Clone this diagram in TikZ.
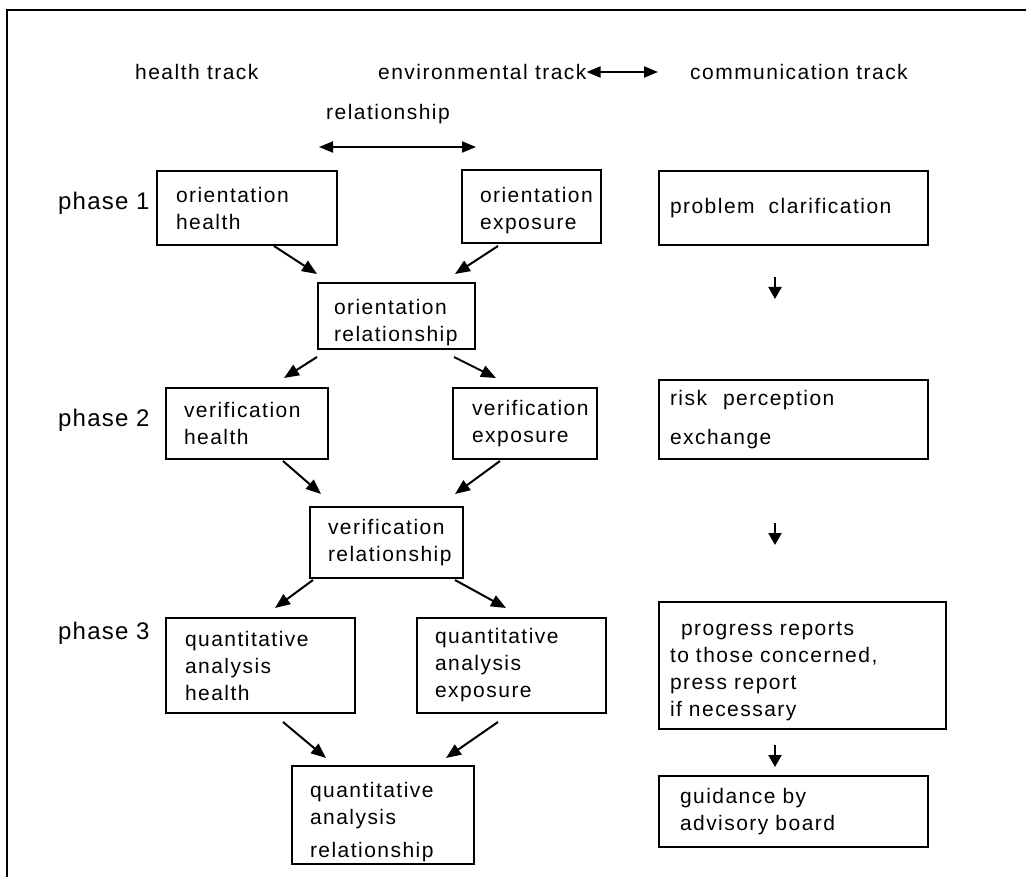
\documentclass[tikz,border=0pt]{standalone}
\usepackage{fontspec}
\setmainfont{Liberation Sans}[LetterSpace=7]
\usetikzlibrary{arrows.meta,calc}
\hyphenpenalty=10000
\newcommand\myind[1]{\hspace*{#1pt}}
\newcommand\mystrut[1]{\rule{0pt}{#1pt}}
\begin{document}
\begin{tikzpicture}[x=1pt,y=-1pt,
  txtfont/.style={font=\fontsize{21}{27}\selectfont},
  box/.style={draw,line width=2pt,anchor=north west,inner xsep=0pt,inner ysep=0pt,align=left,txtfont},
  lbl/.style={anchor=west,inner sep=0pt,txtfont},
  phaselbl/.style={anchor=west,inner sep=0pt,font=\fontsize{24}{28}\selectfont\addfontfeature{LetterSpace=5}},
  arr/.style={line width=2pt,-{Triangle[length=15pt,width=12pt]}},
  varr/.style={line width=2pt,-{Triangle[length=12pt,width=13pt]}},
  darr/.style={line width=2pt,{Triangle[length=14pt,width=11pt]}-{Triangle[length=14pt,width=11pt]}},
]
\useasboundingbox (0,0) rectangle (1026,877);
\draw[line width=2.4pt] (7,877) -- (7,10) -- (1026,10);

% headers
\node[lbl] (ht) at (135,72) {health track};
\node[lbl] (et) at (378,72) {environmental track};
\coordinate (etr) at (658,72);
\node[lbl] (ct) at (690,72) {communication track};
\node[lbl] (rel) at (326,114) {relationship};
\coordinate (rl) at (319,147);
\coordinate (rr) at (476,147);
\draw[darr] (et.east) -- (etr);
\draw[darr] (rl) -- (rr);

% phase labels
\node[phaselbl] (p1) at (58,203) {phase 1};
\node[phaselbl] (p2) at (58,420) {phase 2};
\node[phaselbl] (p3) at (58,633) {phase 3};

% boxes
\node[box,text width=180pt,minimum height=74pt] (oh) at (156,170) {\myind{19}orientation\\\myind{19}health};
\node[box,text width=139pt,minimum height=73pt] (oe) at (461,169) {\mystrut{23}\myind{18}orientation\\\myind{18}exposure};
\node[box,text width=157pt,minimum height=66pt] (or) at (317,282) {\mystrut{29}\myind{16}orientation\\\myind{16}relationship};
\node[box,text width=162pt,minimum height=71pt] (vh) at (165,387) {\myind{18}verification\\\myind{18}health};
\node[box,text width=144pt,minimum height=71pt] (ve) at (452,387) {\myind{19}verification\\\myind{19}exposure};
\node[box,text width=153pt,minimum height=71pt] (vr) at (309,506) {\myind{18}verification\\\myind{18}relationship};
\node[box,text width=189pt,minimum height=95pt] (qh) at (165,617) {\myind{19}quantitative\\\myind{19}analysis\\\myind{19}health};
\node[box,text width=189pt,minimum height=95pt] (qe) at (416,617) {\myind{18}quantitative\\\myind{18}analysis\\\myind{18}exposure};
\node[box,text width=182pt,minimum height=98pt] (qr) at (291,765) {\mystrut{29}\myind{18}quantitative\\\myind{18}analysis\\[6pt]\myind{18}relationship};

\node[box,text width=269pt,minimum height=74pt] (pc) at (658,170) {\myind{11}problem\ \ clarification};
\node[box,text width=269pt,minimum height=79pt] (rp) at (658,379) {\myind{11}risk\hspace{16pt}perception\\[12pt]\myind{11}exchange};
\node[box,text width=287pt,minimum height=127pt] (pr) at (658,601) {\mystrut{26}\myind{22}progress reports\\\myind{11}to those concerned,\\\myind{11}press report\\\myind{11}if necessary};
\node[box,text width=269pt,minimum height=71pt] (gb) at (658,775) {\myind{21}guidance by\\\myind{21}advisory board};

% connectors
\draw[arr] ([xshift=27pt]oh.south) -- ([yshift=8pt]or.north west);
\draw[arr] ([xshift=-33.5pt,yshift=-2pt]oe.south) -- ([xshift=-21pt,yshift=8pt]or.north east);
\draw[arr] ([yshift=-7pt]or.south west) -- ([xshift=37pt,yshift=9pt]vh.north);
\draw[arr] ([xshift=-22pt,yshift=-7pt]or.south east) -- ([xshift=-29pt,yshift=9pt]ve.north);
\draw[arr] ([xshift=36pt,yshift=-1pt]vh.south) -- ([xshift=12pt,yshift=12pt]vr.north west);
\draw[arr] ([xshift=-25pt,yshift=-1pt]ve.south) -- ([xshift=-9pt,yshift=12pt]vr.north east);
\draw[arr] ([xshift=4pt,yshift=-1pt]vr.south west) -- ([xshift=14.5pt,yshift=9pt]qh.north);
\draw[arr] ([xshift=-9pt,yshift=-1pt]vr.south east) -- ([xshift=-5.5pt,yshift=9pt]qe.north);
\draw[arr] ([xshift=22.5pt,yshift=-8pt]qh.south) -- ([xshift=35pt,yshift=7pt]qr.north west);
\draw[arr] ([xshift=-13.5pt,yshift=-8pt]qe.south) -- ([xshift=-29pt,yshift=7pt]qr.north east);

\draw[varr] ([xshift=-18.5pt,yshift=-31pt]pc.south) -- ([xshift=-18.5pt,yshift=80pt]rp.north);
\draw[varr] ([xshift=-18.5pt,yshift=-63pt]rp.south) -- ([xshift=-27.5pt,yshift=56pt]pr.north);
\draw[varr] ([xshift=-27.5pt,yshift=-15pt]pr.south) -- ([xshift=-18.5pt,yshift=8pt]gb.north);
\end{tikzpicture}
\end{document}
